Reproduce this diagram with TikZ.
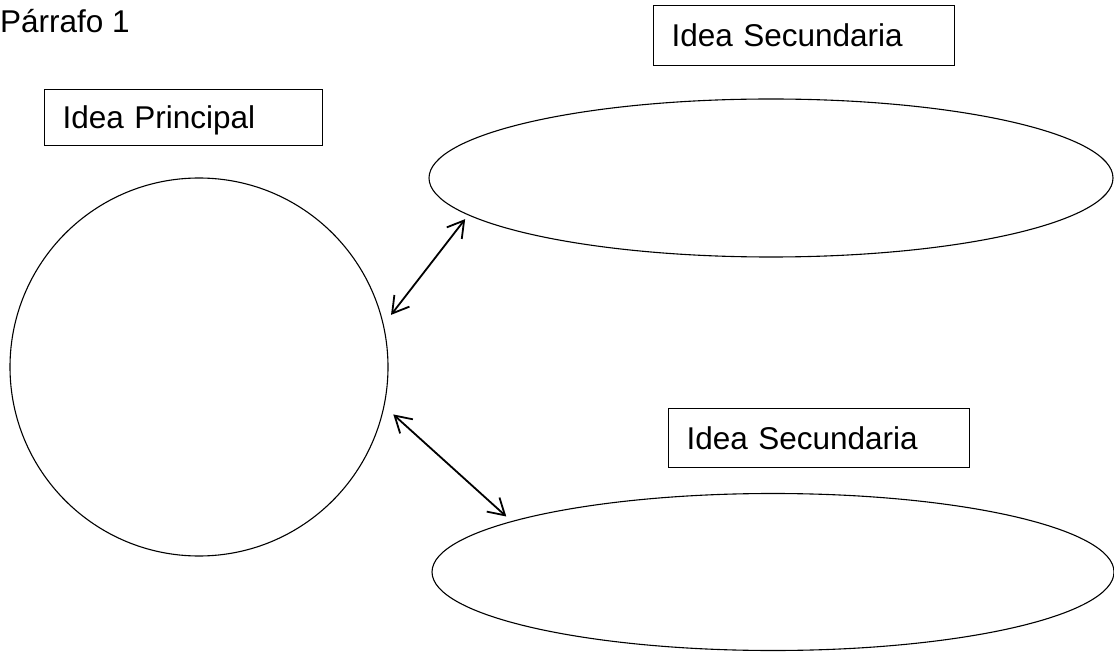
\documentclass[tikz,border=0pt]{standalone}
\usepackage{fontspec}
\setmainfont{Liberation Sans}
\usepackage{tikz}
\usetikzlibrary{shapes.geometric, arrows.meta}
\tikzset{
  titletext/.style={
    anchor=base west, inner sep=0pt, font=\fontsize{31.5}{38}\selectfont
  },
  ideabox/.style={
    rectangle, draw, line width=1.1pt, anchor=north west, align=left,
    inner xsep=18pt, inner ysep=0pt, text height=22pt, text depth=0pt,
    font=\fontsize{31.5}{38}\selectfont
  },
  ideacircle/.style={
    circle, draw, line width=1.1pt, minimum size=378pt, inner sep=0pt
  },
  ideaellipse/.style={
    ellipse, draw, line width=1.1pt, inner sep=0pt
  },
  ideaarrow/.style={
    line width=1.8pt,
    {Straight Barb[length=16pt,width=19pt]}-{Straight Barb[length=16pt,width=19pt]}
  }
}

\begin{document}
\begin{tikzpicture}[x=1pt, y=-1pt]
  \useasboundingbox (0,0) rectangle (1114,652);

  \node[titletext] (title) at (0,33) {Párrafo 1};
  \node[ideabox, minimum width=278pt, minimum height=56pt, text width=242pt] (mainLabel) at (44,89) {Idea Principal};
  \node[ideacircle] (mainIdea) at (199,367) {};

  \node[ideabox, minimum width=301pt, minimum height=60pt, text width=265pt] (secLabelA) at (653,5) {Idea Secundaria};
  \node[ideaellipse, minimum width=684pt, minimum height=158pt] (secIdeaA) at (771,178) {};

  \node[ideabox, minimum width=301pt, minimum height=59pt, text width=265pt] (secLabelB) at (668,408) {Idea Secundaria};
  \node[ideaellipse, minimum width=682pt, minimum height=157pt] (secIdeaB) at (773,572) {};

  \draw[ideaarrow, shorten <=12pt, shorten >=5pt] (mainIdea.13) -- (secIdeaA.187);
  \draw[ideaarrow, shorten <=12pt, shorten >=7pt] (mainIdea.348) -- (secIdeaB.169);
\end{tikzpicture}
\end{document}
